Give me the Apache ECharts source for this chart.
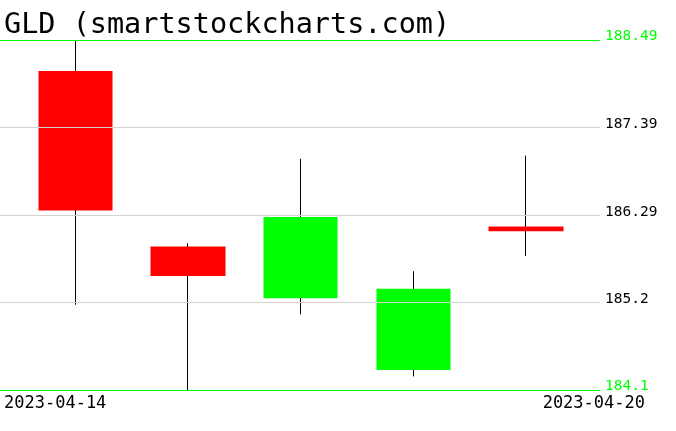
<!DOCTYPE html>
<html><head><meta charset="utf-8">
<script src="https://cdn.jsdelivr.net/npm/echarts@6/dist/echarts.min.js"></script>
<style>html,body{margin:0;padding:0;background:#fff}#c{width:676px;height:431px}</style>
</head><body><div id="c"></div>
<script>
const titleText = 'GLD (smartstockcharts.com)';
const dates = ['2023-04-14', '2023-04-17', '2023-04-18', '2023-04-19', '2023-04-20'];
const opens = [188.10, 185.90, 185.25, 184.35, 186.15];
const closes = [186.35, 185.53, 186.27, 185.37, 186.09];
const lows = [185.17, 184.10, 185.05, 184.27, 185.78];
const highs = [188.49, 185.94, 187.00, 185.59, 187.04];
const yTicks = [188.49, 187.39, 186.29, 185.2, 184.1];
const yMin = 184.1, yMax = 188.49;
const firstDate = '2023-04-14', lastDate = '2023-04-20';

const MONO = 'DejaVu Sans Mono';
const GREEN = '#00ff00', RED = '#ff0000';

const wickData = dates.map((d, i) => {
  const m = (opens[i] + closes[i]) / 2;
  return [m, m, lows[i], highs[i]];
});
const bodyData = dates.map((d, i) => [opens[i], closes[i], Math.min(opens[i], closes[i]), Math.max(opens[i], closes[i])]);

const chart = echarts.init(document.getElementById('c'), null, {renderer: 'canvas'});
chart.setOption({
  animation: false,
  backgroundColor: '#fff',
  title: [
    {text: titleText, left: 4, top: 11, padding: 0,
     textStyle: {fontFamily: MONO, fontSize: 28.5, fontWeight: 'normal', color: '#000'}},
    {text: firstDate, left: 4, top: 395, padding: 0,
     textStyle: {fontFamily: MONO, fontSize: 17, fontWeight: 'normal', color: '#000'}},
    {text: lastDate, right: 31, top: 395, padding: 0,
     textStyle: {fontFamily: MONO, fontSize: 17, fontWeight: 'normal', color: '#000'}}
  ],
  grid: [
    {left: 0, width: 600, top: 40, height: 350},
    {left: 19.2, width: 563, top: 40, height: 350}
  ],
  xAxis: [
    {type: 'value', gridIndex: 0, min: 0, max: 1, show: false},
    {type: 'category', gridIndex: 1, data: dates, show: false, boundaryGap: true}
  ],
  yAxis: [
    {type: 'value', gridIndex: 0, min: yMin, max: yMax, show: false, splitLine: {show: false}},
    {type: 'value', gridIndex: 1, min: yMin, max: yMax, show: false, splitLine: {show: false}}
  ],
  series: [
    {
      type: 'line', xAxisIndex: 0, yAxisIndex: 0, data: [], silent: true,
      markLine: {
        silent: true, symbol: 'none', animation: false,
        label: {show: true, position: 'end', distance: 5, fontFamily: MONO, fontSize: 14.5,
                formatter: p => String(p.value), verticalAlign: 'bottom', lineHeight: 7},
        emphasis: {disabled: true},
        data: yTicks.map(v => {
          const edge = (v === yMax || v === yMin);
          return {yAxis: v,
                  lineStyle: {color: edge ? GREEN : '#d3d3d3', width: 1, type: 'solid'},
                  label: {color: edge ? GREEN : '#000'}};
        })
      }
    },
    {
      type: 'candlestick', xAxisIndex: 1, yAxisIndex: 1, data: wickData, barWidth: 1,
      silent: true,
      itemStyle: {color: '#000', color0: '#000', borderColor: '#000', borderColor0: '#000', borderColorDoji: '#000', borderWidth: 1}
    },
    {
      type: 'candlestick', xAxisIndex: 1, yAxisIndex: 1, data: bodyData, barWidth: 75,
      silent: true,
      itemStyle: {color: GREEN, color0: RED, borderColor: GREEN, borderColor0: RED, borderColorDoji: RED, borderWidth: 0}
    }
  ]
});
</script>
</body></html>
